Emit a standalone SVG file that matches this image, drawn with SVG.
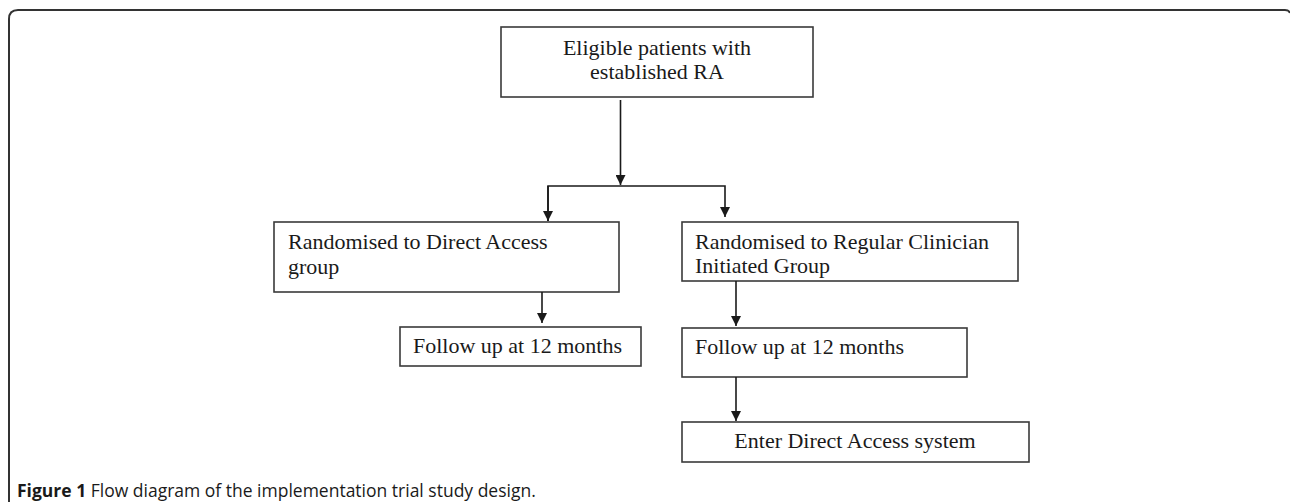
<svg xmlns="http://www.w3.org/2000/svg" width="1290" height="502" viewBox="0 0 1290 502">
<style>
.box{fill:#fff;stroke:#3a3a3a;stroke-width:1.6}
.t{font-family:"Liberation Serif","Times New Roman",serif;font-size:22px;fill:#1a1a1a}
.c{text-anchor:middle}
.conn{fill:none;stroke:#1a1a1a;stroke-width:1.6}
.cap{font-family:"Open Sans","Liberation Sans",sans-serif;font-size:17.5px;fill:#1a1a1a}
</style>
<defs>
<marker id="ah" viewBox="0 0 10 10" refX="10" refY="5" markerWidth="10" markerHeight="10" markerUnits="userSpaceOnUse" orient="auto">
<path d="M0,0 L10,5 L0,10 Z" fill="#1a1a1a"/>
</marker>
</defs>
<rect width="1290" height="502" fill="#fff"/>
<path d="M9,502 V19 Q9,10 18,10 H1285 Q1289,10 1290,13" fill="none" stroke="#333" stroke-width="2"/>
<g id="n1"><rect class="box" x="501" y="27" width="312" height="70"/>
<text class="t c" x="657" y="55">Eligible patients with</text>
<text class="t c" x="657" y="79">established RA</text></g>
<g id="n2"><rect class="box" x="274" y="222" width="345" height="70"/>
<text class="t" x="288" y="249">Randomised to Direct Access</text>
<text class="t" x="288" y="274">group</text></g>
<g id="n3"><rect class="box" x="682" y="222" width="336" height="59"/>
<text class="t" x="695" y="249">Randomised to Regular Clinician</text>
<text class="t" x="695" y="273">Initiated Group</text></g>
<g id="n4"><rect class="box" x="400" y="327" width="241" height="39"/>
<text class="t" x="413" y="353">Follow up at 12 months</text></g>
<g id="n5"><rect class="box" x="682" y="328" width="285" height="49"/>
<text class="t" x="695" y="354">Follow up at 12 months</text></g>
<g id="n6"><rect class="box" x="682" y="422" width="347" height="40"/>
<text class="t c" x="855" y="448">Enter Direct Access system</text></g>
<g id="connectors">
<path class="conn" d="M620.5,100 V185" marker-end="url(#ah)"/>
<path class="conn" d="M548,221 V186 H725 V217" marker-end="url(#ah)"/>
<path class="conn" d="M548,186 V221" marker-end="url(#ah)"/>
<path class="conn" d="M542,292 V323" marker-end="url(#ah)"/>
<path class="conn" d="M736,281 V326" marker-end="url(#ah)"/>
<path class="conn" d="M736,377 V421" marker-end="url(#ah)"/>
</g>
<text class="cap" x="17" y="497"><tspan font-weight="bold">Figure 1</tspan> Flow diagram of the implementation trial study design.</text>
</svg>
